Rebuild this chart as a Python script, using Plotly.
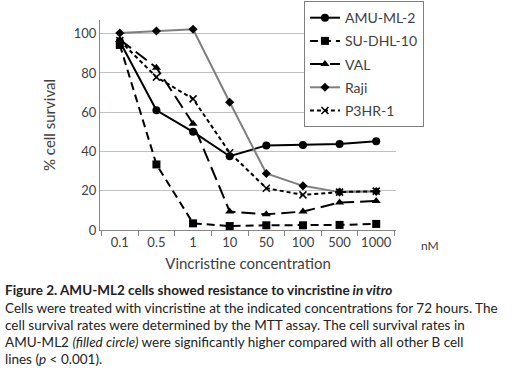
import plotly.graph_objects as go

concentrations = ["0.1", "0.5", "1", "10", "50", "100", "500", "1000"]
amu_ml_2 = [96, 61, 50, 37.6, 43.1, 43.3, 43.8, 45.2]
su_dhl_10 = [94.3, 33.4, 3.4, 2.0, 2.4, 2.4, 2.6, 3.1]
val = [97, 82.7, 54.2, 9.4, 8.0, 9.4, 14.0, 14.8]
raji = [100.4, 101.4, 102.3, 65.1, 28.8, 22.5, 19.3, 19.6]
p3hr_1 = [96.5, 77.9, 66.8, 39.4, 21.3, 17.9, 19.3, 19.8]

y_ticks = [0, 20, 40, 60, 80, 100]

caption_lines = [
    "<b>Figure 2. AMU-ML2 cells showed resistance to vincristine</b><b><i> in vitro</i></b>",
    "Cells were treated with vincristine at the indicated concentrations for 72 hours. The",
    "cell survival rates were determined by the MTT assay. The cell survival rates in",
    "AMU-ML2 <i>(filled circle)</i> were significantly higher compared with all other B cell",
    "lines (<i>p</i> < 0.001).",
]

FONT = "Lato"
series = [
    ("AMU-ML-2", amu_ml_2, dict(color="black", width=2, dash="solid"), dict(symbol="circle", size=8, color="black")),
    ("SU-DHL-10", su_dhl_10, dict(color="black", width=2, dash="8px,5px"), dict(symbol="square", size=8, color="black")),
    ("VAL", val, dict(color="black", width=2, dash="14px,6px"), dict(symbol="triangle-up", size=8, color="black")),
    ("Raji", raji, dict(color="#7f7f7f", width=2, dash="solid"), dict(symbol="diamond", size=7, color="black")),
    ("P3HR-1", p3hr_1, dict(color="black", width=2, dash="4px,3px"), dict(symbol="x-thin", size=7, color="black", line=dict(width=1.5, color="black"))),
]

fig = go.Figure()
for name, ys, line, marker in series:
    fig.add_trace(go.Scatter(x=concentrations, y=ys, name=name, mode="lines+markers",
                             line=line, marker=marker, legendgroup=name))

fig.update_layout(
    width=520, height=372,
    margin=dict(l=100, r=124, t=20, b=142, autoexpand=False),
    paper_bgcolor="white", plot_bgcolor="white",
    font=dict(family=FONT, color="#404040"),
    showlegend=True,
    legend=dict(x=0.689, y=1.09, xanchor="left", yanchor="top",
                bgcolor="white", bordercolor="#808080", borderwidth=1,
                font=dict(size=14, color="#404040", family=FONT),
                tracegroupgap=2, entrywidth=97),
    xaxis=dict(type="category", showgrid=False, showline=True, linecolor="#868686", linewidth=1,
               ticks="outside", tickson="boundaries", ticklen=5, tickcolor="#868686",
               tickangle=0,
               tickfont=dict(size=13, color="#404040"),
               title=dict(text="Vincristine concentration", font=dict(size=15, color="#404040"), standoff=9)),
    yaxis=dict(range=[0, 107], tickvals=y_ticks, showgrid=True, gridcolor="#c0c0c0", gridwidth=1,
               showline=True, linecolor="#868686", linewidth=1, zeroline=False,
               tickfont=dict(size=13, color="#404040"), ticks="",
               title=dict(text="% cell survival", font=dict(size=15, color="#404040"), standoff=14)),
)

fig.add_annotation(text="nM", xref="paper", yref="paper", x=(430 - 100) / 296, y=(230 - 245) / 210,
                   showarrow=False, font=dict(size=12, color="#404040"), xanchor="center", yanchor="middle")

ys_pix = [290, 307.5, 325, 342, 359]
for txt, yp in zip(caption_lines, ys_pix):
    fig.add_annotation(text=txt, xref="paper", yref="paper", x=(3 - 100) / 296, y=(230 - yp) / 210,
                       showarrow=False, xanchor="left", yanchor="middle", align="left",
                       font=dict(size=13.5, color="#222222", family=FONT))

fig.write_html("out.html", config={"displayModeBar": False},
               post_script="document.body.style.margin='0';")
